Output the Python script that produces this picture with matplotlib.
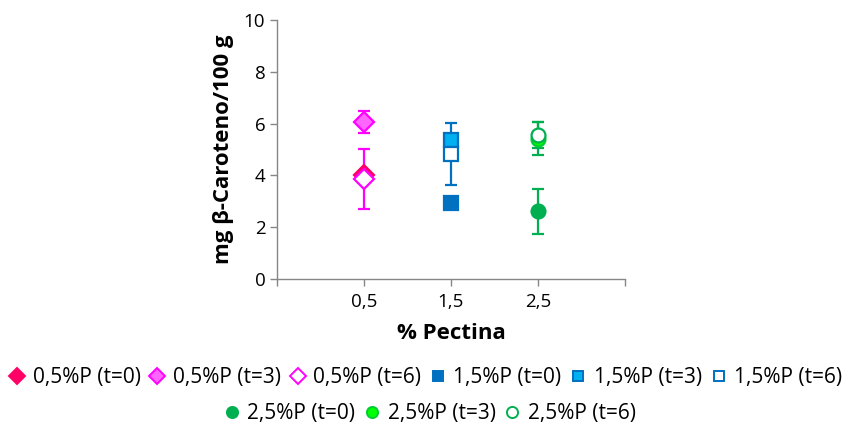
import matplotlib
matplotlib.use("Agg")
import matplotlib.pyplot as plt
from matplotlib.lines import Line2D

plt.rcParams['font.family'] = ['Open Sans', 'DejaVu Sans']

# Pectin levels (x positions) and tick labels
pectin = [0.5, 1.5, 2.5]
tick_labels = ["0,5", "1,5", "2,5"]

# Mean beta-carotene (mg/100 g) per pectin level and storage time
t0_values = [4.0, 2.95, 2.62]
t3_values = [6.05, 5.35, 5.42]
t6_values = [3.85, 4.82, 5.57]

# Standard deviations (None where no bar is drawn)
t0_err = [None, None, 0.87]
t3_err = [0.42, None, 0.65]
t6_err = [1.15, 1.2, 0.5]

series_labels = [
    ["0,5%P (t=0)", "0,5%P (t=3)", "0,5%P (t=6)"],
    ["1,5%P (t=0)", "1,5%P (t=3)", "1,5%P (t=6)"],
    ["2,5%P (t=0)", "2,5%P (t=3)", "2,5%P (t=6)"],
]

# styling per pectin level: marker, edge colour, fills for t=0, t=3, t=6
styles = [
    dict(marker='D', ms=10, edges=['#FF0066', '#FF00FF', '#FF00FF'],
         fills=['#FF0066', '#FF66FF', 'white'], err='#FF00FF'),
    dict(marker='s', ms=9.5, edges=['#0070C0', '#0070C0', '#0070C0'],
         fills=['#0070C0', '#00B0F0', 'white'], err='#0070C0'),
    dict(marker='o', ms=10, edges=['#00B050', '#00CC33', '#00B050'],
         fills=['#00B050', '#00FF00', 'white'], err='#00B050'),
]

fig = plt.figure(figsize=(8.5, 4.32), dpi=100)
ax = fig.add_axes([0.326, 0.354, 0.409, 0.600])

values = [t0_values, t3_values, t6_values]
errors = [t0_err, t3_err, t6_err]
handles = []
for i, x in enumerate(pectin):
    st = styles[i]
    row = []
    for k in range(3):
        y = values[k][i]
        e = errors[k][i]
        if e is not None:
            ax.errorbar([x], [y], yerr=[e], fmt='none', ecolor=st['err'],
                        elinewidth=1.6, capsize=4.5, capthick=1.6, zorder=2)
        ax.plot([x], [y], linestyle='none', marker=st['marker'], ms=st['ms'],
                mfc=st['fills'][k], mec=st['edges'][k], mew=1.6, zorder=3 + k)
        row.append(Line2D([], [], linestyle='none', marker=st['marker'],
                          ms=st['ms'] * 0.8, mfc=st['fills'][k],
                          mec=st['edges'][k], mew=1.4,
                          label=series_labels[i][k]))
    handles.append(row)

ax.set_xlim(-0.5, 3.5)
ax.set_ylim(0, 10)
ax.set_xticks([-0.5] + pectin + [3.5])
ax.set_xticklabels([""] + tick_labels + [""])
ax.set_yticks(range(0, 11, 2))

axis_gray = '#868686'
for side in ['top', 'right']:
    ax.spines[side].set_visible(False)
for side in ['left', 'bottom']:
    ax.spines[side].set_color(axis_gray)
    ax.spines[side].set_linewidth(1.0)
ax.tick_params(axis='both', colors=axis_gray, labelcolor='black',
               labelsize=13.5, length=5, width=1.0)
ax.tick_params(axis='x', pad=5)

ax.set_xlabel("% Pectina", fontsize=16, fontweight='bold', labelpad=9)
ax.set_ylabel("mg β-Caroteno/100 g", fontsize=16, fontweight='bold', labelpad=7)

legend_kw = dict(frameon=False, fontsize=15, handletextpad=0.3,
                 columnspacing=0.35, handlelength=0.9, borderaxespad=0)
row1 = handles[0] + handles[1]
fig.legend(handles=row1, ncol=6, loc='center', bbox_to_anchor=(0.5, 0.125),
           **legend_kw)
fig.legend(handles=handles[2], ncol=3, loc='center',
           bbox_to_anchor=(0.505, 0.043), **legend_kw)

fig.savefig("out.png", dpi=100)
